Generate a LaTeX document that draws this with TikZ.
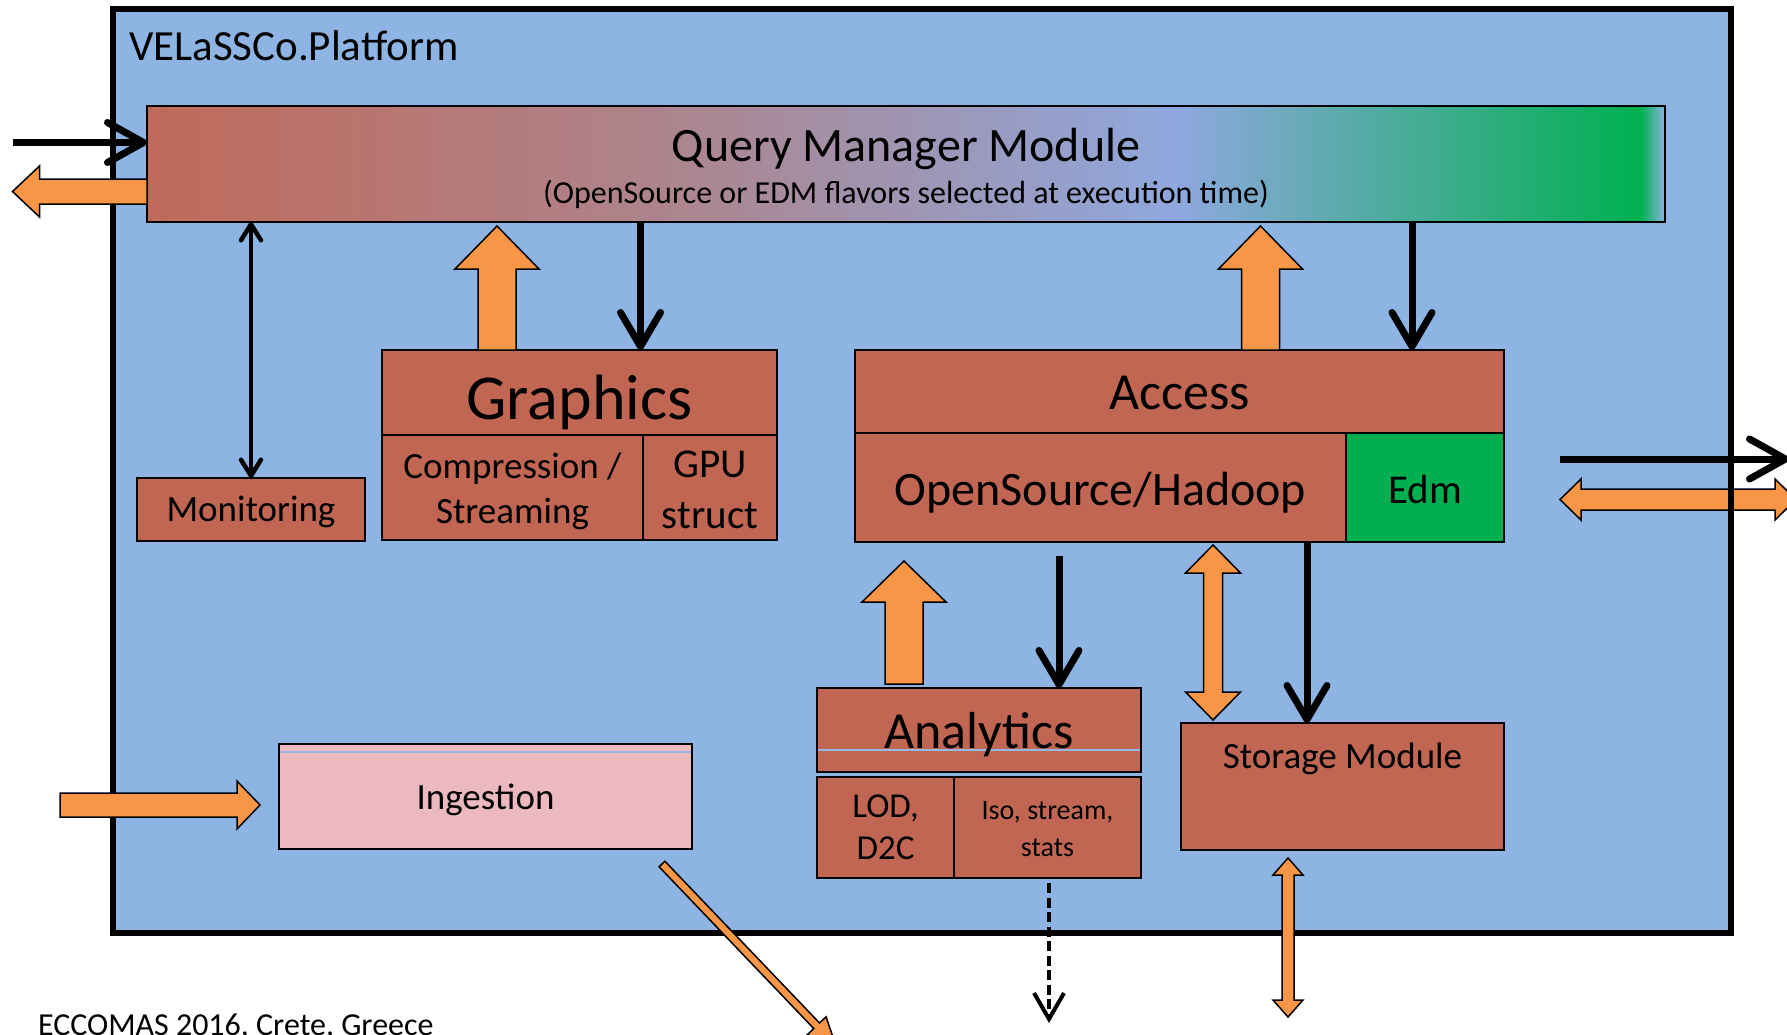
\documentclass[tikz,border=0pt]{standalone}
\usepackage{fontspec}
\setmainfont{Carlito}
\usetikzlibrary{arrows.meta,calc}

\definecolor{platblue}{RGB}{142,180,227}
\definecolor{boxred}{RGB}{193,102,83}
\definecolor{orng}{RGB}{247,150,70}
\definecolor{edmgreen}{RGB}{0,176,80}
\definecolor{ingpink}{RGB}{236,186,190}
\definecolor{thinblue}{RGB}{150,185,228}
\definecolor{qmA}{RGB}{192,106,90}
\definecolor{qmB}{RGB}{173,133,142}
\definecolor{qmC}{RGB}{142,168,222}
\definecolor{qmD}{RGB}{0,176,80}
\definecolor{qmE}{RGB}{141,180,227}

% red -> lavender -> green ramp of the query manager bar
\pgfdeclarehorizontalshading{qmshade}{100bp}{color(0bp)=(qmA); color(25bp)=(qmA);
  color(42.5bp)=(qmB); color(59bp)=(qmC); color(74.2bp)=(qmD); color(75bp)=(qmE); color(100bp)=(qmE)}

\newcommand\fsz[1]{\fontsize{#1}{#1}\selectfont}

% block arrow with one head: from, to, shaft half width, head half width, head length
\newcommand\oneheadarrow[5]{%
  \coordinate (bah) at ($(#2)!#5!(#1)$);
  \draw[orngarr] ($(#1)!#3!90:(#2)$) -- ($(bah)!#3!90:(#2)$) -- ($(bah)!#4!90:(#2)$) -- (#2)
    -- ($(bah)!#4!-90:(#2)$) -- ($(bah)!#3!-90:(#2)$) -- ($(#1)!#3!-90:(#2)$) -- cycle;
}
% block arrow with a head at both ends
\newcommand\twoheadarrow[5]{%
  \coordinate (bah1) at ($(#2)!#5!(#1)$);
  \coordinate (bah2) at ($(#1)!#5!(#2)$);
  \draw[orngarr] (#1) -- ($(bah2)!#4!90:(#2)$) -- ($(bah2)!#3!90:(#2)$) -- ($(bah1)!#3!90:(#2)$)
    -- ($(bah1)!#4!90:(#2)$) -- (#2) -- ($(bah1)!#4!-90:(#2)$) -- ($(bah1)!#3!-90:(#2)$)
    -- ($(bah2)!#3!-90:(#2)$) -- ($(bah2)!#4!-90:(#2)$) -- cycle;
}

\begin{document}
\begin{tikzpicture}[x=1pt,y=-1pt,
  box/.style={draw, line width=2pt, fill=boxred, inner sep=0pt, outer sep=0pt},
  txt/.style={inner sep=0pt, outer sep=0pt, anchor=base},
  blk/.style={line width=7pt, -{Straight Barb[length=34pt,width=40pt,round]}},
  blkwide/.style={line width=7pt, -{Straight Barb[length=36pt,width=40pt,round]}},
  monarr/.style={line width=4.5pt, {Straight Barb[length=16pt,width=20pt,round]}-{Straight Barb[length=16pt,width=20pt,round]}},
  dasharr/.style={line width=4pt, dash pattern=on 10pt off 4.5pt, -{Straight Barb[length=26pt,width=30pt]}},
  orngarr/.style={fill=orng, draw=black, line width=1.5pt, line join=miter},
]
\path[use as bounding box] (0,0) rectangle (1787,1034);
\clip (0,0) rectangle (1787,1034);
\fill[white] (0,0) rectangle (1787,1034);

% platform frame
\node[fill=platblue, inner sep=0pt, outer sep=0pt, minimum width=1618pt, minimum height=924pt] (plat) at (922,471) {};
\coordinate (rd-a) at (1560,499.5);
\coordinate (rd-b) at (1796,499.5);
\twoheadarrow{rd-a}{rd-b}{10.5pt}{20.5pt}{21pt}
\draw[line width=6.5pt] (plat.north west) rectangle (plat.south east);
\node[txt, anchor=base west, font=\fsz{43}] (title) at (129,60) {VELaSSCo.Platform};

% query manager
\node[draw, line width=2pt, shading=qmshade, inner sep=0pt, outer sep=0pt, minimum width=1518pt, minimum height=116pt] (qm) at (906,164) {};
\node[txt, font=\fsz{48}] (qm-t) at (906,161) {Query Manager Module};
\node[txt, font=\fsz{32}] (qm-s) at (906,203) {(OpenSource or EDM flavors selected at execution time)};

% monitoring
\node[box, minimum width=228pt, minimum height=63pt] (mon) at (251,509.5) {};
\node[txt, font=\fsz{37}] (mon-t) at (251,521) {Monitoring};

% graphics
\node[box, minimum width=395pt, minimum height=85pt] (gfx) at (579.5,392.5) {};
\node[txt, font=\fsz{64}] (gfx-t) at (579.5,419) {Graphics};
\node[box, minimum width=261pt, minimum height=105pt] (comp) at (512.5,487.5) {};
\node[txt, font=\fsz{37}] (comp-a) at (512.5,478) {Compression /};
\node[txt, font=\fsz{37}] (comp-b) at (512.5,523) {Streaming};
\node[box, minimum width=134pt, minimum height=105pt] (gpu) at (710,487.5) {};
\node[txt, font=\fsz{41}] (gpu-a) at (710,477) {GPU};
\node[txt, font=\fsz{41}] (gpu-b) at (710,528) {struct};

% access
\node[box, minimum width=649pt, minimum height=83pt] (acc) at (1179.5,391.5) {};
\node[txt, font=\fsz{52}] (acc-t) at (1179.5,409) {Access};
\node[box, line width=2.5pt, minimum width=491pt, minimum height=109pt] (osh) at (1100.5,487.5) {};
\node[txt, font=\fsz{48}] (osh-t) at (1100.5,505) {OpenSource/Hadoop};
\node[box, fill=edmgreen, minimum width=158pt, minimum height=109pt] (edm) at (1425,487.5) {};
\node[txt, font=\fsz{41}] (edm-t) at (1425,503) {Edm};

% analytics
\node[box, minimum width=324pt, minimum height=84pt] (ana) at (979,730) {};
\draw[thinblue, line width=1.2pt] ($(ana.west)+(1,20)$) -- ($(ana.east)+(-1,20)$);
\node[txt, font=\fsz{52}] (ana-t) at (979,748) {Analytics};
\node[box, minimum width=137pt, minimum height=101pt] (lod) at (885.5,827.5) {};
\node[txt, font=\fsz{35}] (lod-a) at (885.5,817) {LOD,};
\node[txt, font=\fsz{35}] (lod-b) at (885.5,859) {D2C};
\node[box, minimum width=187pt, minimum height=101pt] (iso) at (1047.5,827.5) {};
\node[txt, font=\fsz{28}] (iso-a) at (1047.5,819) {Iso, stream,};
\node[txt, font=\fsz{28}] (iso-b) at (1047.5,856) {stats};

% storage
\node[box, minimum width=323pt, minimum height=127pt] (sto) at (1342.5,786.5) {};
\node[txt, font=\fsz{37}] (sto-t) at (1342.5,768) {Storage Module};

% ingestion
\node[box, fill=ingpink, minimum width=413pt, minimum height=105pt] (ing) at (485.5,796.5) {};
\draw[thinblue, line width=1.2pt] ($(ing.west)+(1,-44.5)$) -- ($(ing.east)+(-1,-44.5)$);
\node[txt, font=\fsz{37}] (ing-t) at (485.5,809) {Ingestion};

% black connectors
\coordinate (inL) at (13,142.5);
\draw[blkwide] (inL) -- (inL -| qm.west);
\draw[monarr] (mon.north) -- (mon.north |- qm.south);
\coordinate (gdn) at ($(gfx.north)+(61,0)$);
\draw[blk] (gdn |- qm.south) -- (gdn);
\coordinate (adn) at ($(acc.north)+(232.5,0)$);
\draw[blk] (adn |- qm.south) -- (adn);
\coordinate (andn) at (1059,556);
\draw[blk] (andn) -- (andn |- ana.north);
\coordinate (sdn) at ($(osh.south)+(206.5,0)$);
\draw[blk] (sdn) -- (sdn |- sto.north);
\coordinate (outR) at (1560,459);
\coordinate (outRtip) at (1789,459);
\draw[blkwide] (outR) -- (outRtip);
\coordinate (dashend) at (1049,1023);
\draw[dasharr] ($(iso.south)+(1.5,5)$) -- (dashend);

% orange block arrows
\coordinate (qm-o) at ($(qm.west)+(0,27.5)$);
\coordinate (qmout) at (12.5,191.5);
\oneheadarrow{qm-o}{qmout}{12.5pt}{25.5pt}{27pt}
\coordinate (gup-s) at ($(gfx.north)+(-82.5,0)$);
\coordinate (gup-e) at ($(gup-s |- qm.south)+(0,4)$);
\oneheadarrow{gup-s}{gup-e}{19pt}{42pt}{43pt}
\coordinate (aup-s) at ($(acc.north)+(81,0)$);
\coordinate (aup-e) at ($(aup-s |- qm.south)+(0,4)$);
\oneheadarrow{aup-s}{aup-e}{19pt}{42pt}{43pt}
\coordinate (anup-s) at ($(ana.north)+(-75,-4)$);
\coordinate (anup-e) at (904,561);
\oneheadarrow{anup-s}{anup-e}{19pt}{42pt}{41pt}
\coordinate (vd-a) at ($(sto.north)+(-129.5,-3)$);
\coordinate (vd-b) at (1213,545);
\twoheadarrow{vd-a}{vd-b}{9.5pt}{27.5pt}{28pt}
\coordinate (sd-a) at (1288,1017);
\coordinate (sd-b) at ($(sto.south)+(-54.5,8)$);
\twoheadarrow{sd-a}{sd-b}{6pt}{15pt}{17pt}
\coordinate (ing-in) at (60,805);
\coordinate (ing-tip) at ($(ing.west)+(-19,8.5)$);
\oneheadarrow{ing-in}{ing-tip}{12pt}{24pt}{23pt}
\coordinate (diag-s) at (662,864);
\coordinate (diag-e) at (836,1046);
\oneheadarrow{diag-s}{diag-e}{4pt}{13pt}{28pt}

% footer
\node[txt, anchor=base west, font=\fsz{32}] (footer) at (38,1035) {ECCOMAS 2016, Crete, Greece};
\end{tikzpicture}
\end{document}
